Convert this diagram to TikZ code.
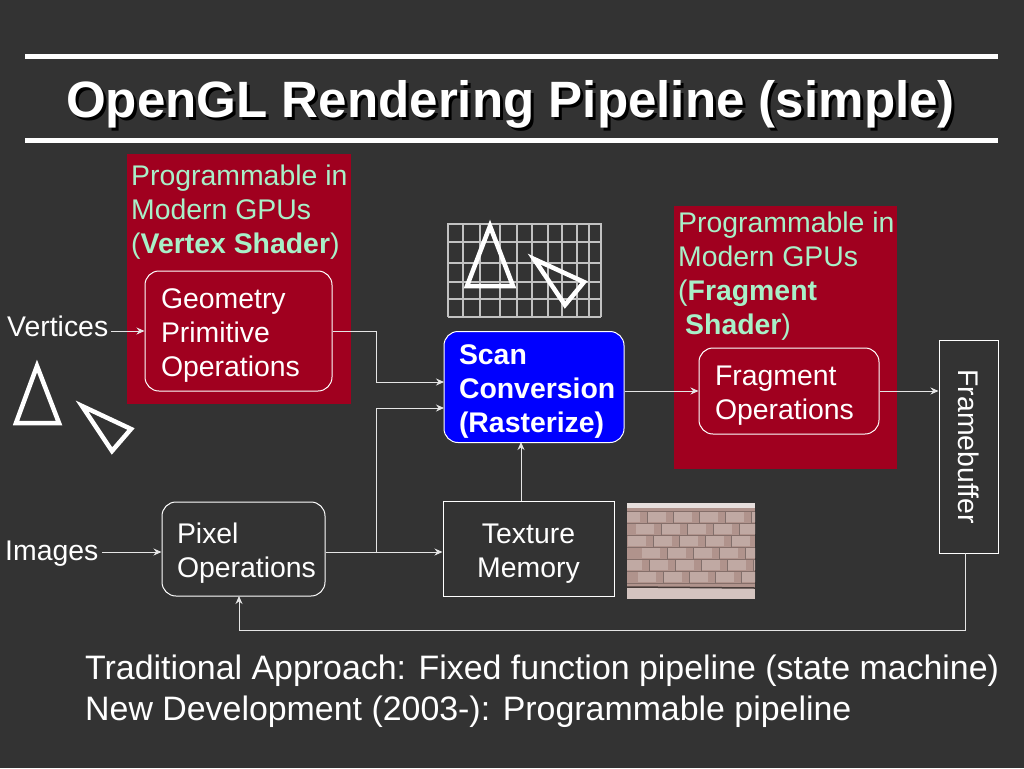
\documentclass[tikz,border=0pt]{standalone}
\usepackage{fontspec}
\usetikzlibrary{arrows.meta}
\setmainfont{Liberation Sans}
\definecolor{slide}{HTML}{333333}
\definecolor{shaderred}{HTML}{A0001F}
\definecolor{shadergreen}{HTML}{A8F0C8}
\definecolor{scanblue}{HTML}{0000FF}
\definecolor{brick}{HTML}{B0938C}
\tikzset{
	lowered/.style={execute at begin node={\rule{0pt}{29.5pt}}},
	rbox/.style={draw=white, rounded corners=14pt, text=white, align=left, inner xsep=0pt, inner ysep=0pt, lowered},
	sbox/.style={draw=white, text=white, align=center, inner sep=0pt},
	plain/.style={text=white, inner sep=0pt},
	shadertext/.style={text=shadergreen, anchor=north west, align=left, inner sep=0pt},
	flow/.style={draw=white!90!black, line width=1pt, ->},
	tri/.style={draw=white, line width=4.5pt, miter limit=10},
}
\begin{document}
\begin{tikzpicture}[x=1pt, y=-1pt, font=\fontsize{28.4}{34}\selectfont, line join=miter, >={Stealth[length=8pt,width=7pt]}]
	\def\bw{1pt}
	\def\titletext{OpenGL Rendering Pipeline (simple)}
	\useasboundingbox (0,0) rectangle (1024,768);
	\fill[slide] (0,0) rectangle (1024,768);
	% title
	\fill[white] (25,54) rectangle (998,59);
	\fill[white] (25,138) rectangle (998,143);
	\node (title) [plain, font=\fontsize{51.1}{58}\selectfont\bfseries] at (510.5,106) {\rlap{\raisebox{-3pt}{\hspace{3pt}\textcolor{black}{\titletext}}}\titletext};
	% red panels
	\fill[shaderred] (127,154) rectangle (351,404);
	\fill[shaderred] (674,206) rectangle (897,469);
	\node (vertexnote) [shadertext] at (131,165) {Programmable in\\Modern GPUs\\(\textbf{Vertex Shader})};
	\node (fragmentnote) [shadertext] at (678,212) {Programmable in\\Modern GPUs\\(\textbf{Fragment}\\\hspace*{7pt}\textbf{Shader})};
	% boxes
	\node (geometry) [rbox, line width=\bw, minimum width=187pt, minimum height=120pt, text width=155pt] at (238.5,331) {Geometry\\Primitive\\Operations};
	\node (scan) [rbox, line width=\bw, fill=scanblue, minimum width=180pt, minimum height=111pt, text width=150pt, font=\fontsize{28.4}{34}\selectfont\bfseries] at (534,387) {Scan\\Conversion\\(Rasterize)};
	\node (fragment) [rbox, line width=\bw, minimum width=180pt, minimum height=86pt, text width=148pt] at (789,391) {Fragment\\Operations};
	\node (pixel) [rbox, line width=\bw, minimum width=163pt, minimum height=94pt, text width=133pt] at (243.5,549) {Pixel\\Operations};
	\node (texture) [sbox, lowered, line width=\bw, minimum width=171pt, minimum height=95pt, text width=171pt] at (528.5,548.5) {Texture\\Memory};
	\node (framebuffer) [sbox, line width=\bw, rotate=-90, minimum width=213pt, minimum height=59pt] at (968.5,446.5) {Framebuffer};
	% labels
	\node (vertices) [plain, anchor=west] at (7,326.5) {Vertices};
	\node (images) [plain, anchor=west] at (5,554) {Images};
	\coordinate (vertexin) at (111,331);
	\coordinate (imagein) at (102,552);
	\coordinate (scana) at (444,382);
	\coordinate (scanb) at (444,408);
	\coordinate (split) at (376,552);
	% connectors
	\draw[flow] (vertexin) -- (geometry.west);
	\draw[flow] (imagein) -- (pixel.west |- imagein);
	\draw[flow] (geometry.east) -- (376,331) |- (scana);
	\draw[flow] (pixel.east |- split) -- (texture.west |- split);
	\draw[flow] (split) |- (scanb);
	\draw[flow] (texture.north -| 521,0) -- (521,442);
	\draw[flow] (scan.east |- 0,391) -- (fragment.west);
	\draw[flow] (fragment.east) -- (framebuffer.south |- fragment.east);
	\draw[flow] (965,553) -- (965,630) -- (239,630) -- (239,596);
	% grid with triangles
	\foreach \x in {448,463,480,500,517,532,548,562,577,589,601}
		\draw[white!70!slide, line width=1.5pt] (\x,223) -- (\x,317);
	\foreach \y in {224,242,263,282,299,317}
		\draw[white!70!slide, line width=1.5pt] (448,\y) -- (601,\y);
	\draw[tri] (490,226) -- (513,286) -- (467,286) -- cycle;
	\draw[tri] (534,259) -- (584,282) -- (565,305) -- cycle;
	\draw[tri] (37,366) -- (59,423) -- (16,423) -- cycle;
	\draw[tri] (82,406) -- (131,429) -- (112,451) -- cycle;
	% brick picture
	\begin{scope}
		\clip (627,503) rectangle (755,599);
		\fill[brick] (627,503) rectangle (755,599);
		\fill[white!70!brick] (627,503) rectangle (755,508);
		\fill[white!45!brick] (627,588) rectangle (755,599);
		\foreach \y/\s in {511/0,523/14,535/6,547/20,559/2,571/16}
			\foreach \x in {0,1,2,3,4,5}{
				\fill[brick!80!white] (622+\s+\x*26,\y+1) rectangle (640+\s+\x*26,\y+11);
				\draw[brick!65!black!90, line width=0.8pt] (647+\s+\x*26,\y) -- (647+\s+\x*26,\y+12);
			}
		\foreach \y in {511,523,535,547,559,571,583}
			\draw[brick!75!black, line width=0.8pt] (627,\y) -- (755,\y);
		\draw[black!60!brick, line width=1.5pt] (627,587) -- (755,588);
	\end{scope}
	% footer
	\node (footera) [plain, anchor=base west, font=\fontsize{33.9}{40}\selectfont] at (85,679) {Traditional Approach: Fixed function pipeline (state machine)};
	\node (footerb) [plain, anchor=base west, font=\fontsize{33.9}{40}\selectfont] at (85,720) {New Development (2003-): Programmable pipeline};
\end{tikzpicture}
\end{document}
